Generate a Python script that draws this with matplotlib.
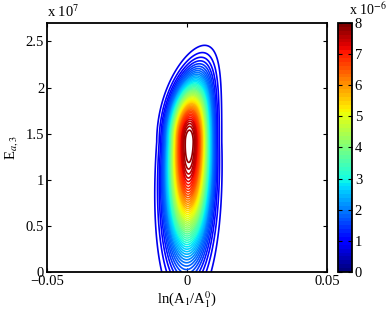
import numpy as np
import matplotlib
matplotlib.use('Agg')
import matplotlib.pyplot as plt
from matplotlib.ticker import FuncFormatter

plt.rcParams['font.family'] = ['Liberation Serif', 'DejaVu Serif']
plt.rcParams['mathtext.fontset'] = 'stix'

# shape of the density
peak_value = 8.0e-6          # top of the colour scale
x_peak = 0.0008              # ln(A1/A1^0) at the maximum
y_peak = 1.41e7              # E_a,3 at the maximum
sigma_x = 0.0051
widen_down = 0.14            # relative widening in x per 1e7 below the peak
sigma_y_up = 0.46e7
sigma_y_down = 0.80e7
shape_p = 2.5                # flatness of the core (2 = gaussian)
lean_up = 0.005              # rightward lean of the upper part (per (1e7)^2)
lean_down = 0.001            # shift of the lower part (per 1.4e7)

first_level = 0.16e-6
level_step = 0.16e-6
n_levels = 49

xlim = (-0.05, 0.05)
ylim = (0, 2.7e7)
x_ticks = [-0.05, 0, 0.05]
y_ticks = [0, 0.5e7, 1e7, 1.5e7, 2e7, 2.5e7]
cbar_ticks = [0, 1e-6, 2e-6, 3e-6, 4e-6, 5e-6, 6e-6, 7e-6, 8e-6]

# grid
x = np.linspace(-0.05, 0.05, 1200)
y = np.linspace(0, 2.7e7, 600)
X, Y = np.meshgrid(x, y)
dy = Y - y_peak
above = dy > 0
center = np.where(above, x_peak + lean_up * (dy / 1e7) ** 2,
                  x_peak + lean_down * dy / 1.4e7)
sx = np.where(above, sigma_x, sigma_x * (1 - widen_down * dy / 1e7))
sy = np.where(above, sigma_y_up, sigma_y_down)
R2 = ((X - center) / sx) ** 2 + (dy / sy) ** 2
Z = peak_value * np.exp(-0.5 * R2 ** (shape_p / 2))

levels = first_level + level_step * np.arange(n_levels)

fig = plt.figure(figsize=(3.9, 3.09), dpi=100)
ax = fig.add_axes([0.1205, 0.1197, 0.718, 0.806])
cmap = plt.get_cmap('jet', 64)
norm = matplotlib.colors.Normalize(vmin=0, vmax=peak_value)
line_norm = matplotlib.colors.Normalize(vmin=-0.7e-6, vmax=peak_value)
ax.contour(X, Y, Z, levels=levels, cmap=cmap, norm=line_norm, linewidths=1.2)

ax.set_xlim(xlim)
ax.set_ylim(ylim)
ax.set_xticks(x_ticks)
ax.set_xticklabels(['\u22120.05', '0', '0.05'])
ax.set_yticks(y_ticks)
ax.yaxis.set_major_formatter(FuncFormatter(lambda v, p: '%g' % (v / 1e7)))
ax.tick_params(direction='in', top=True, right=True, length=3, width=0.8,
               labelsize=10.5, pad=2)
for s in ax.spines.values():
    s.set_linewidth(1.3)
ax.set_xlabel('ln(A$_1$/A$_1^0$)', fontsize=10.5, labelpad=1)
ax.set_ylabel('E$_{a,3}$', fontsize=10.5, labelpad=4)
ax.text(0, 1.01, 'x 10$^7$', transform=ax.transAxes, fontsize=10.5,
        ha='left', va='bottom')

# colorbar
cax = fig.add_axes([0.8667, 0.1197, 0.0359, 0.806])
sm = matplotlib.cm.ScalarMappable(norm=norm, cmap=cmap)
cb = fig.colorbar(sm, cax=cax, ticks=cbar_ticks)
cb.ax.set_yticklabels(['%d' % round(t / 1e-6) for t in cbar_ticks])
cb.ax.tick_params(direction='in', left=True, right=True, length=3, width=0.8,
                  labelsize=10.5, pad=2)
cb.outline.set_linewidth(1.3)
cax.text(0.8, 1.02, 'x 10$^{-6}$', transform=cax.transAxes, fontsize=10,
         ha='left', va='bottom')

fig.savefig('out.png', dpi=100)
